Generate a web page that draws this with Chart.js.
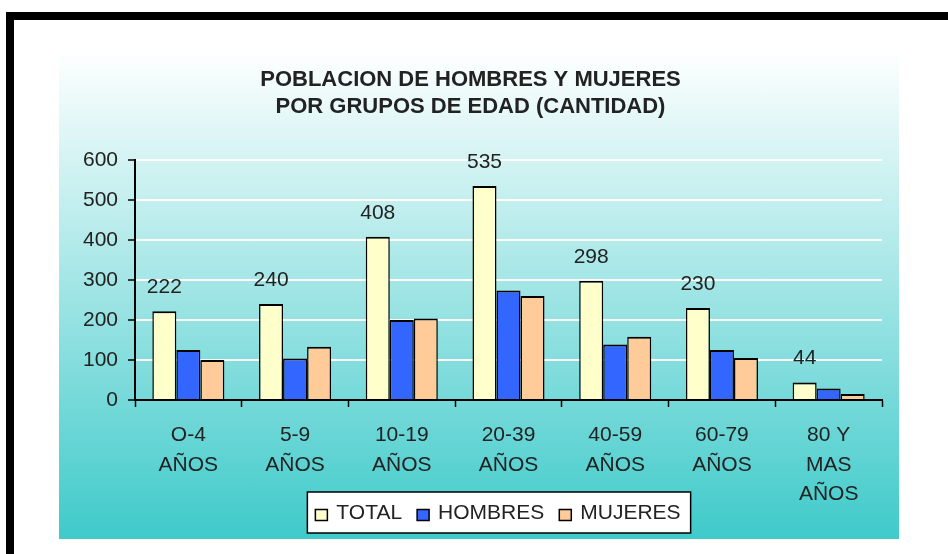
<!DOCTYPE html>
<html lang="es">
<head>
  <meta charset="UTF-8">
  <title>Poblacion por grupos de edad</title>
  <script src="https://cdn.jsdelivr.net/npm/chart.js"></script>
  <style>
    html, body { margin: 0; padding: 0; background: #fff; }
    #frame {
      position: absolute; left: 6px; top: 12px; width: 960px; height: 535px;
      border-left: 8px solid #000; border-top: 8px solid #000; border-bottom: 3px solid #000;
    }
    #panel {
      position: absolute; left: 59px; top: 50px; width: 840px; height: 489px;
      background: linear-gradient(to bottom, #ffffff 0%, #3fcaca 100%);
    }
    #myChart { position: absolute; left: 0; top: 0; }
  </style>
</head>
<body>
  <div id="frame"></div>
  <div id="panel"><canvas id="myChart" width="840" height="489"></canvas></div>
  <script>
    const grupos = [['O-4', 'AÑOS'], ['5-9', 'AÑOS'], ['10-19', 'AÑOS'], ['20-39', 'AÑOS'],
                    ['40-59', 'AÑOS'], ['60-79', 'AÑOS'], ['80 Y', 'MAS', 'AÑOS']];
    const total = [222, 240, 408, 535, 298, 230, 44];
    const hombres = [125, 104, 200, 274, 139, 125, 29];
    const mujeres = [100, 133, 204, 260, 158, 105, 15];

    const textColor = '#222';
    const fontFamily = "'Liberation Sans', Arial, sans-serif";

    // etiquetas de valor sobre las barras de TOTAL
    const totalLabels = {
      id: 'totalLabels',
      afterDatasetsDraw(chart) {
        const ctx = chart.ctx;
        const meta = chart.getDatasetMeta(0);
        ctx.save();
        ctx.font = '21px ' + fontFamily;
        ctx.fillStyle = textColor;
        ctx.textAlign = 'center';
        ctx.textBaseline = 'middle';
        meta.data.forEach((bar, i) => {
          ctx.fillText(chart.data.datasets[0].data[i], bar.x, bar.y - 24);
        });
        ctx.restore();
      }
    };

    // leyenda con recuadro como en el original
    const boxLegend = {
      id: 'boxLegend',
      afterDraw(chart) {
        const ctx = chart.ctx;
        const sets = chart.data.datasets;
        ctx.save();
        ctx.font = '21px ' + fontFamily;
        const sq = 12, gapSq = 9, gapItem = 15, padL = 8, padR = 10;
        let w = padL + padR;
        sets.forEach((ds, i) => {
          w += sq + gapSq + ctx.measureText(ds.label).width + (i < sets.length - 1 ? gapItem : 0);
        });
        const h = 41, cx = 440, top = 442;
        const left = cx - w / 2;
        ctx.fillStyle = '#fff';
        ctx.fillRect(left, top, w, h);
        ctx.strokeStyle = '#000';
        ctx.lineWidth = 1.5;
        ctx.strokeRect(left, top, w, h);
        let x = left + padL;
        const mid = top + h / 2;
        sets.forEach((ds) => {
          ctx.fillStyle = ds.backgroundColor;
          ctx.fillRect(x, mid - 3, sq, sq - 1);
          ctx.lineWidth = 1.5;
          ctx.strokeRect(x, mid - 3, sq, sq - 1);
          x += sq + gapSq;
          ctx.fillStyle = textColor;
          ctx.textBaseline = 'middle';
          ctx.textAlign = 'left';
          ctx.fillText(ds.label, x, mid + 1);
          x += ctx.measureText(ds.label).width + gapItem;
        });
        ctx.restore();
      }
    };

    const ctx = document.getElementById('myChart').getContext('2d');
    const myChart = new Chart(ctx, {
      type: 'bar',
      data: {
        labels: grupos,
        datasets: [
          { label: 'TOTAL', data: total, backgroundColor: '#ffffcc' },
          { label: 'HOMBRES', data: hombres, backgroundColor: '#3366ff' },
          { label: 'MUJERES', data: mujeres, backgroundColor: '#ffcc99' }
        ]
      },
      options: {
        responsive: false,
        animation: false,
        datasets: {
          bar: {
            borderColor: '#000',
            borderWidth: { top: 2, left: 1.5, right: 1.5, bottom: 0 },
            borderSkipped: false,
            categoryPercentage: 0.675,
            barPercentage: 1.0
          }
        },
        layout: { padding: { top: 0, left: 0, right: 17, bottom: 0 } },
        plugins: {
          legend: { display: false },
          tooltip: { enabled: false },
          title: {
            display: true,
            text: ['POBLACION DE HOMBRES Y MUJERES', 'POR GRUPOS DE EDAD (CANTIDAD)'],
            color: textColor,
            font: { family: fontFamily, size: 22, weight: 'bold', lineHeight: 1.25 },
            padding: { top: 16, bottom: 39 }
          }
        },
        scales: {
          x: {
            afterFit(scale) { scale.height = 139; },
            grid: {
              offset: true,
              drawOnChartArea: false,
              drawTicks: true,
              tickLength: 7,
              tickColor: '#000',
              tickWidth: 1.5
            },
            border: { color: '#000', width: 2 },
            ticks: {
              color: textColor,
              padding: 14,
              maxRotation: 0,
              font: { family: fontFamily, size: 21, lineHeight: 1.4 }
            }
          },
          y: {
            min: 0,
            max: 600,
            afterFit(scale) { scale.width = 76; },
            grid: {
              color: '#ffffff',
              lineWidth: 2,
              tickLength: 7,
              tickColor: '#000',
              tickWidth: 1.5
            },
            border: { color: '#000', width: 2 },
            ticks: {
              stepSize: 100,
              color: textColor,
              padding: 10,
              font: { family: fontFamily, size: 21 }
            }
          }
        }
      },
      plugins: [totalLabels, boxLegend]
    });
  </script>
</body>
</html>
